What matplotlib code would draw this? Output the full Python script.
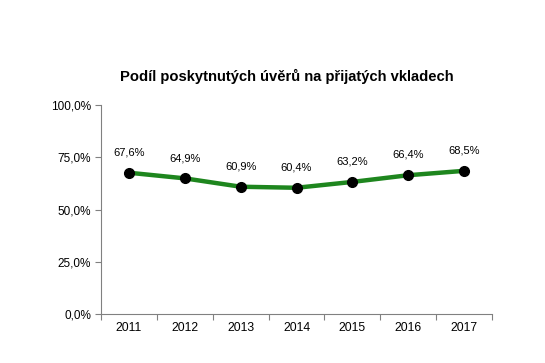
import matplotlib
matplotlib.use("Agg")
import matplotlib.pyplot as plt
import numpy as np

years = ["2011", "2012", "2013", "2014", "2015", "2016", "2017"]
values = [67.6, 64.9, 60.9, 60.4, 63.2, 66.4, 68.5]
yticks = [0, 25, 50, 75, 100]
title = "Podíl poskytnutých úvěrů na přijatých vkladech"

plt.rcParams['font.family'] = ['Liberation Sans', 'DejaVu Sans']

fig = plt.figure(figsize=(5.45, 3.63), dpi=100)
ax = fig.add_axes([0.1853, 0.135, 0.7175, 0.5757])

x = np.arange(len(years))
ax.plot(x, values, color="#1e861e", lw=3.2, marker="o", markersize=7,
        markerfacecolor="black", markeredgecolor="black", zorder=3)
for xi, v in zip(x, values):
    ax.annotate(f"{v:.1f}%".replace(".", ","), (xi, v), xytext=(0, 11),
                textcoords="offset points", ha="center", va="bottom", fontsize=8)

ax.set_xlim(-0.5, len(years) - 0.5)
ax.set_ylim(0, 100)
ax.set_yticks(yticks)
ax.set_yticklabels([f"{t:.1f}%".replace(".", ",") for t in yticks], fontsize=8.5)
ax.set_xticks(np.arange(-0.5, len(years)), labels=[""] * (len(years) + 1))
ax.set_xticks(x, labels=years, minor=True)
ax.tick_params(axis="x", which="minor", length=0, labelsize=8.8, pad=6)
ax.tick_params(axis="x", which="major", length=4, color="#808080")
ax.tick_params(axis="y", length=4, color="#808080", pad=3)
for s in ["top", "right"]:
    ax.spines[s].set_visible(False)
for s in ["left", "bottom"]:
    ax.spines[s].set_color("#808080")
    ax.spines[s].set_linewidth(0.8)

fig.text(0.527, 0.79, title, ha="center", va="center", fontsize=10.6, fontweight="bold")

fig.savefig("out.png", dpi=100)
